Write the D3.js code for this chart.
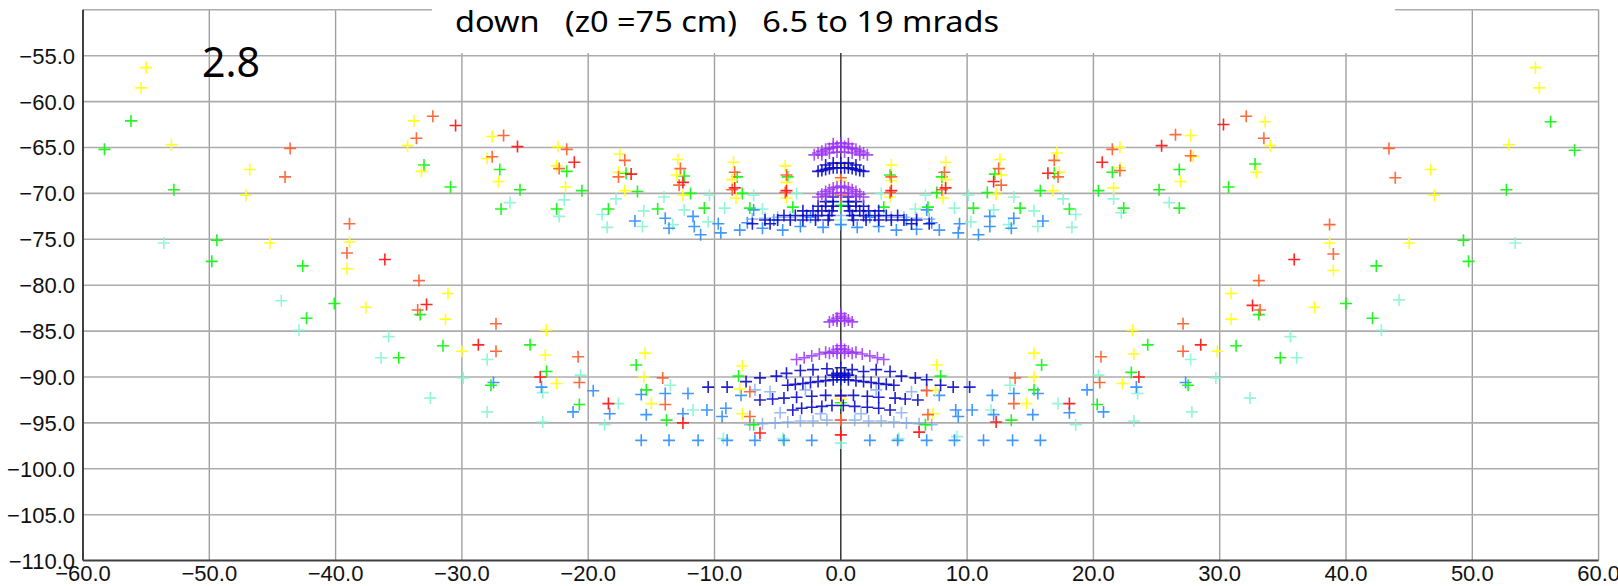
<!DOCTYPE html>
<html>
<head>
  <meta charset="utf-8">
  <title>down (z0 =75 cm) 6.5 to 19 mrads</title>
  <style>
    body { margin: 0; background: #fff; }
    svg { display: block; }
  </style>
</head>
<body>
  <script src="https://cdn.jsdelivr.net/npm/d3@7"></script>
  <script type="text/javascript">
    // tick values
    var xTicks = [-60, -50, -40, -30, -20, -10, 0, 10, 20, 30, 40, 50, 60];
    var yTicks = [-55, -60, -65, -70, -75, -80, -85, -90, -95, -100, -105, -110];
    var titleText = "down   (z0 =75 cm)   6.5 to 19 mrads";
    var cornerLabel = "2.8";

    // points, one list per colour, [x, y]
    var yellowPts = [
      [-55.0,-56.3],[-55.4,-58.5],[-53.0,-64.7],[-46.8,-67.4],[-47.1,-70.2],[-45.2,-75.4],[-38.9,-75.3],[-39.1,-78.2],
      [-33.8,-62.1],[-34.3,-64.8],[-33.2,-67.6],[-27.6,-63.8],[-28.0,-66.2],[-27.1,-68.7],[-22.4,-64.9],[-22.5,-67.0],
      [-21.8,-69.3],[-17.5,-65.7],[-17.6,-67.7],[-17.1,-69.7],[-12.9,-66.3],[-13.0,-68.0],[-12.5,-70.2],[-8.5,-66.6],
      [-8.6,-68.5],[-8.3,-70.5],[-4.4,-67.0],[-4.3,-68.8],[-4.3,-70.5],
      [-31.1,-80.9],[-37.6,-82.4],[-31.3,-83.7],[-30.0,-87.2],[-23.3,-84.9],[-23.4,-87.6],[-22.5,-90.7],[-15.5,-87.4],
      [-15.6,-90.0],[-15.0,-92.9],[-7.8,-88.8],[-8.0,-91.3],[-7.8,-94.0],
      [0,-66.9],[0,-68.6],[0,-89.2],[0,-92.4],
      [55.0,-56.3],[55.3,-58.5],[52.9,-64.7],[46.7,-67.4],[47.0,-70.2],[45.0,-75.4],[38.7,-75.4],[39.0,-78.4],
      [33.6,-62.2],[34.0,-64.8],[32.9,-67.7],[27.7,-63.7],[27.9,-66.0],[26.9,-68.7],[22.1,-65.0],[22.1,-67.2],
      [21.6,-69.4],[17.1,-65.6],[17.3,-67.7],[16.8,-69.7],[12.6,-66.3],[12.7,-68.0],[12.3,-70.1],[8.3,-66.6],
      [8.3,-68.5],[8.1,-70.5],[4.0,-66.9],[4.0,-68.6],[3.9,-70.4],
      [30.9,-80.9],[37.5,-82.4],[30.9,-83.7],[29.8,-87.2],[23.1,-84.9],[23.2,-87.5],[22.3,-90.7],[15.3,-87.4],
      [15.3,-90.0],[14.7,-92.9],[7.6,-88.7],[7.5,-91.4],[7.3,-94.0]
    ];
    var orangePts = [
      [-43.6,-65.1],[-44.0,-68.2],[-38.9,-73.3],[-39.1,-76.5],[-32.3,-61.6],[-33.6,-64.0],[-26.7,-63.7],[-27.6,-66.0],
      [-21.7,-65.2],[-22.3,-67.3],[-17.1,-66.4],[-17.6,-68.2],[-12.7,-67.3],[-12.8,-69.1],[-8.4,-67.7],[-8.6,-69.6],
      [-4.3,-68.0],[-4.4,-69.9],
      [-33.4,-79.5],[-33.5,-82.7],[-27.3,-84.2],[-27.3,-87.2],[-20.8,-87.8],[-20.7,-90.6],[-14.1,-90.1],[-13.9,-93.0],
      [-7.2,-91.6],[-7.2,-94.3],
      [0,-68.3],[0,-70.2],[0,-92.1],[0,-94.7],
      [43.4,-65.1],[43.9,-68.3],[38.7,-73.4],[39.0,-76.6],[32.1,-61.6],[33.5,-64.0],[26.5,-63.6],[27.7,-65.9],
      [21.5,-65.2],[22.1,-67.5],[16.9,-66.4],[17.2,-68.2],[12.5,-67.3],[12.7,-69.1],[8.2,-67.7],[8.0,-69.6],
      [4.0,-68.2],[3.9,-69.9],
      [33.1,-79.5],[33.2,-82.7],[27.1,-84.2],[27.1,-87.2],[20.6,-87.8],[20.5,-90.6],[13.8,-90.1],[13.7,-92.9],
      [6.8,-91.5],[6.9,-94.1]
    ];
    var redPts = [
      [-36.1,-77.2],[-30.5,-62.6],[-25.6,-64.9],[-21.1,-66.6],[-16.6,-67.9],[-12.5,-68.8],[-8.4,-69.4],[-4.3,-69.7],
      [-32.8,-82.1],[-28.7,-86.5],[-23.8,-90.0],[-18.4,-92.9],[-12.5,-95.0],[-6.4,-96.1],
      [0,-96.3],
      [35.9,-77.2],[30.3,-62.5],[25.4,-64.8],[20.7,-66.6],[16.4,-67.8],[12.1,-68.7],[8.3,-69.4],[4.0,-69.7],
      [32.6,-82.2],[28.5,-86.5],[23.6,-90.0],[18.1,-92.9],[12.3,-94.9],[6.2,-96.0]
    ];
    var greenPts = [
      [-56.2,-62.1],[-58.3,-65.2],[-52.8,-69.6],[-49.4,-75.1],[-49.8,-77.4],[-42.6,-77.9],[-33.0,-66.9],[-30.9,-69.3],
      [-27.0,-67.4],[-25.4,-69.6],[-26.9,-71.7],[-21.7,-67.6],[-20.5,-69.7],[-22.5,-71.7],[-17.0,-67.8],[-16.1,-69.8],
      [-18.4,-71.7],[-14.5,-71.7],[-12.4,-68.1],[-11.9,-70.0],[-10.8,-71.6],[-8.2,-68.2],[-7.8,-70.0],[-7.2,-71.6],
      [-4.2,-68.2],[-3.8,-71.5],
      [-40.1,-82.0],[-33.3,-83.2],[-42.3,-83.6],[-35.0,-87.9],[-31.5,-86.6],[-24.6,-86.5],[-27.7,-90.9],[-23.3,-89.4],
      [-20.7,-93.0],[-16.2,-88.7],[-15.4,-91.4],[-13.8,-94.7],[-8.1,-89.9],[-6.9,-95.2],
      [0,-71.3],[0,-90.3],[0,-92.8],
      [56.2,-62.2],[58.1,-65.3],[52.7,-69.6],[49.3,-75.1],[49.7,-77.4],[42.4,-77.9],[32.8,-66.8],[30.7,-69.3],
      [26.8,-67.4],[25.2,-69.6],[26.8,-71.6],[21.5,-67.7],[20.4,-69.7],[22.4,-71.6],[16.9,-67.8],[15.8,-69.7],
      [18.1,-71.7],[14.2,-71.6],[12.2,-67.9],[11.6,-69.9],[10.5,-71.6],[8.0,-68.2],[7.6,-69.9],[6.9,-71.5],
      [3.9,-68.0],[3.4,-71.5],
      [40.0,-82.0],[33.1,-83.2],[42.1,-83.6],[34.8,-87.9],[31.3,-86.6],[24.3,-86.5],[27.5,-90.9],[23.0,-89.5],
      [20.3,-93.0],[15.9,-88.7],[15.3,-91.4],[13.5,-94.7],[7.9,-89.9],[6.7,-95.2]
    ];
    var aquaPts = [
      [-53.6,-75.4],[-26.2,-71.0],[-21.9,-70.7],[-22.3,-72.5],[-17.8,-70.6],[-18.9,-72.3],[-18.5,-73.7],[-15.6,-71.9],
      [-15.7,-73.6],[-14.0,-70.4],[-13.3,-73.4],[-12.4,-71.8],[-10.4,-70.2],[-10.5,-73.1],[-9.2,-71.6],[-6.9,-70.2],
      [-6.2,-71.7],[-3.5,-70.0],
      [-44.3,-81.7],[-42.9,-84.9],[-35.8,-85.6],[-36.4,-87.9],[-28.0,-88.1],[-29.9,-90.1],[-32.5,-92.3],[-28.0,-93.8],
      [-20.6,-89.8],[-23.6,-91.7],[-23.6,-94.9],[-17.6,-92.9],[-18.7,-95.2],[-13.5,-90.9],[-11.7,-93.6],[-9.3,-96.7],
      [-4.6,-96.7],
      [0,-72.9],[0,-97.2],
      [53.4,-75.4],[26.0,-71.0],[21.6,-70.6],[22.2,-72.1],[17.6,-70.6],[18.6,-72.3],[18.3,-73.7],[15.3,-71.9],
      [15.6,-73.6],[13.7,-70.4],[13.3,-73.4],[12.1,-71.8],[10.1,-70.2],[10.3,-73.1],[9.0,-71.6],[6.7,-70.2],
      [5.9,-71.7],[3.2,-70.0],
      [44.2,-81.6],[42.8,-84.9],[35.6,-85.6],[36.1,-87.9],[27.7,-88.1],[29.7,-90.1],[32.4,-92.3],[27.8,-93.8],
      [20.4,-89.8],[23.5,-91.8],[23.2,-94.8],[17.2,-92.9],[18.6,-95.2],[13.4,-90.9],[11.9,-93.6],[9.2,-96.5],
      [4.6,-96.7]
    ];
    var dodgerPts = [
      [-16.3,-73.0],[-13.9,-72.7],[-13.6,-73.8],[-11.7,-72.5],[-11.6,-73.6],[-11.1,-74.5],[-9.7,-73.3],[-9.5,-74.3],
      [-8.0,-74.0],[-6.9,-71.8],[-7.4,-73.2],[-6.2,-73.8],[-5.3,-72.9],[-4.6,-74.0],[-3.2,-73.6],[-2.4,-72.6],
      [-1.4,-73.7],[0,-73.4],
      [16.0,-73.0],[13.7,-72.7],[13.5,-73.8],[11.8,-72.5],[11.8,-73.6],[10.9,-74.5],[9.4,-73.3],[9.3,-74.3],
      [7.8,-74.0],[6.8,-71.8],[7.2,-73.2],[6.0,-73.9],[5.2,-72.9],[4.4,-74.0],[3.0,-73.6],[2.3,-72.6],
      [1.3,-73.7],
      [-27.5,-90.6],[-23.7,-91.1],[-19.6,-91.5],[-21.2,-93.8],[-18.3,-94.0],[-15.8,-91.9],[-13.9,-91.8],[-15.4,-94.1],
      [-12.5,-94.0],[-12.1,-91.8],[-10.6,-93.6],[-9.4,-94.3],[-9.1,-93.4],[-7.9,-92.0],
      [27.3,-90.6],[23.4,-91.1],[19.5,-91.4],[20.8,-93.8],[18.1,-93.9],[15.6,-91.8],[13.7,-91.8],[15.2,-94.1],
      [12.1,-94.1],[12.0,-92.0],[10.4,-93.6],[9.3,-94.3],[9.1,-93.6],[7.8,-92.0],
      [-15.8,-96.9],[-13.6,-96.9],[-11.3,-96.9],[-9.0,-96.9],[-6.8,-96.9],[-4.5,-96.9],[-2.3,-96.9],
      [2.3,-96.9],[4.5,-96.9],[6.8,-96.9],[9.0,-96.9],[11.3,-96.9],[13.6,-96.9],[15.8,-96.9]
    ];
    var paleBluePts = [
      [-7.0,-72.8],[-6.0,-72.7],[-5.0,-72.6],[-4.0,-72.6],[-3.0,-72.5],[-2.0,-72.5],[-1.0,-72.4],[0,-72.4],
      [1.0,-72.4],[2.0,-72.5],[3.0,-72.5],[4.0,-72.6],[5.0,-72.6],[6.0,-72.7],[7.0,-72.8],
      [-7.2,-95.2],[-6.2,-95.1],[-5.2,-95.0],[-4.2,-94.9],[-3.2,-94.8],[-2.2,-94.8],[-1.1,-94.7],[0,-94.7],
      [1.1,-94.7],[2.2,-94.8],[3.2,-94.8],[4.2,-94.9],[5.2,-95.0],[6.2,-95.1],[7.2,-95.2],
      [-6.8,-91.4],[-5.6,-91.6],[-4.8,-93.9],[-2.8,-91.4],[-1.6,-94.0],[1.6,-94.0],[2.8,-91.4],[4.8,-93.9],
      [5.6,-91.6],[6.8,-91.4]
    ];
    var darkBluePts = [
      // upper dome
      [-1.8,-67.6],[-1.5,-67.5],[-1.2,-67.4],[-0.9,-67.3],[-0.6,-67.2],[-0.3,-67.2],[0,-67.2],[0.3,-67.2],
      [0.6,-67.2],[0.9,-67.3],[1.2,-67.4],[1.5,-67.5],[1.8,-67.6],
      [-1.2,-66.9],[-0.6,-66.7],[0,-66.7],[0.6,-66.7],[1.2,-66.9],
      // upper triangle
      [-0.6,-70.4],[0.6,-70.4],[-1.2,-70.9],[-0.6,-70.9],[0.6,-70.9],[1.2,-70.9],
      [-1.8,-71.4],[-1.2,-71.4],[-0.6,-71.4],[0.6,-71.4],[1.2,-71.4],[1.8,-71.4],
      [-3.0,-71.9],[-2.2,-71.9],[-1.5,-71.9],[-0.7,-71.9],[0.7,-71.9],[1.5,-71.9],[2.2,-71.9],[3.0,-71.9],
      [-4.5,-72.4],[-3.6,-72.4],[-2.7,-72.4],[-1.8,-72.4],[-0.9,-72.4],[0.9,-72.4],[1.8,-72.4],[2.7,-72.4],
      [3.6,-72.4],[4.5,-72.4],
      [-6.0,-72.9],[-5.0,-72.9],[-4.0,-72.9],[-3.0,-72.9],[-2.0,-72.9],[-1.0,-72.9],[1.0,-72.9],[2.0,-72.9],
      [3.0,-72.9],[4.0,-72.9],[5.0,-72.9],[6.0,-72.9],
      [-7.0,-73.3],[-5.6,-73.3],[5.6,-73.3],[7.0,-73.3],
      // lower rows
      [-10.5,-91.1],[-9.0,-91.1],[-7.5,-90.5],[-6.4,-90.1],[-5.1,-89.9],[-4.3,-89.6],[-3.2,-89.3],[-2.2,-89.2],
      [-1.1,-89.1],[0,-89.0],[0.9,-89.2],[1.8,-89.4],[2.8,-89.2],[3.9,-89.4],[4.8,-89.9],[5.9,-90.1],
      [6.8,-90.3],[7.9,-90.9],[8.9,-91.1],[10.2,-91.1],
      [-0.6,-89.8],[-0.3,-89.6],[0,-89.8],[0.3,-89.6],[0.6,-89.8],[-0.3,-90.0],[0.3,-90.0],
      [-4.2,-90.9],[-3.6,-90.8],[-3.0,-90.7],[-2.4,-90.6],[-1.8,-90.5],[-1.2,-90.4],[-0.6,-90.3],[0,-90.3],
      [0.6,-90.3],[1.2,-90.4],[1.8,-90.5],[2.4,-90.6],[3.0,-90.7],[3.6,-90.8],[4.2,-90.9],
      [-6.4,-92.5],[-5.4,-92.4],[-4.5,-92.3],[-3.5,-92.2],[-2.3,-92.1],[-1.2,-92.0],[0,-92.0],[1.0,-92.0],
      [2.1,-92.1],[3.0,-92.2],[4.3,-92.3],[5.1,-92.4],[6.1,-92.5],
      [-3.8,-93.6],[-3.1,-93.4],[-2.3,-93.3],[-1.5,-93.2],[-0.7,-93.1],[0.2,-93.1],[1.1,-93.2],[2.1,-93.3],
      [3.0,-93.4],[3.9,-93.6]
    ];
    var purplePts = [
      [-2.1,-65.8],[-1.8,-65.6],[-1.5,-65.4],[-1.2,-65.2],[-0.9,-65.1],[-0.6,-65.0],[-0.3,-64.9],[0,-64.9],
      [0.3,-64.9],[0.6,-65.0],[0.9,-65.1],[1.2,-65.2],[1.5,-65.4],[1.8,-65.6],[2.1,-65.8],
      [-1.5,-65.8],[-0.9,-65.6],[-0.3,-65.5],[0.3,-65.5],[0.9,-65.6],[1.5,-65.8],[-0.6,-64.6],[0,-64.5],[0.6,-64.6],
      [-1.8,-70.4],[-1.5,-70.1],[-1.2,-69.8],[-0.9,-69.6],[-0.6,-69.4],[-0.3,-69.3],[0,-69.2],[0.3,-69.3],
      [0.6,-69.4],[0.9,-69.6],[1.2,-69.8],[1.5,-70.1],[1.8,-70.4],
      [-1.2,-70.3],[-0.6,-70.0],[0,-69.9],[0.6,-70.0],[1.2,-70.3],
      [-0.9,-84.0],[-0.6,-83.8],[-0.3,-83.6],[0,-83.4],[0.3,-83.6],[0.6,-83.8],[0.9,-84.0],[0,-83.1],[-0.3,-83.9],[0.3,-83.9],
      [-0.9,-87.4],[-0.6,-87.2],[-0.3,-87.0],[0,-86.9],[0.3,-87.0],[0.6,-87.2],[0.9,-87.4],[0,-86.6],[-0.3,-87.4],[0.3,-87.4],
      [-3.5,-88.1],[-2.9,-87.9],[-2.3,-87.7],[-1.7,-87.5],[-1.2,-87.3],[1.2,-87.3],[1.7,-87.5],[2.3,-87.7],
      [2.9,-87.9],[3.4,-88.1]
    ];

    var series = [
      { pts: aquaPts, color: "#7ff5d0", op: 0.85 },
      { pts: dodgerPts, color: "#2b8cff", op: 0.9 },
      { pts: paleBluePts, color: "#6f9ff2", op: 0.7 },
      { pts: greenPts, color: "#14f514", op: 0.95 },
      { pts: yellowPts, color: "#ffff14", op: 0.95 },
      { pts: orangePts, color: "#ff5a28", op: 0.9 },
      { pts: redPts, color: "#ff1a1a", op: 0.95 },
      { pts: darkBluePts, color: "#0a0ac8", op: 0.9 },
      { pts: purplePts, color: "#9a32f5", op: 0.85 }
    ];

    var width = 1618, height = 586;
    var svg = d3.select("body").append("svg")
      .attr("width", width)
      .attr("height", height);

    var x = d3.scaleLinear().domain([-60, 60]).range([83, 1598.6]);
    var y = d3.scaleLinear().domain([-110, -50]).range([560.6, 9.8]);
    var fmt = d3.format(".1f");

    // grid
    var grid = svg.append("g");
    grid.selectAll("line.v").data(xTicks.filter(function(d) { return d > -60 && d !== 0; }))
      .enter().append("line")
      .attr("x1", function(d) { return x(d); }).attr("x2", function(d) { return x(d); })
      .attr("y1", y(-50)).attr("y2", y(-110))
      .attr("stroke", "#a0a0a0").attr("stroke-width", 1.4);
    grid.selectAll("line.h").data(yTicks.filter(function(d) { return d > -110; }).concat([-50]))
      .enter().append("line")
      .attr("x1", x(-60)).attr("x2", x(60))
      .attr("y1", function(d) { return y(d); }).attr("y2", function(d) { return y(d); })
      .attr("stroke", "#acacac").attr("stroke-width", 1.6);

    // white box behind the title
    svg.append("rect")
      .attr("x", 432).attr("y", 0).attr("width", 963).attr("height", 53)
      .attr("fill", "#fff");

    // zero line
    svg.append("line")
      .attr("x1", x(0)).attr("x2", x(0)).attr("y1", 53).attr("y2", y(-110))
      .attr("stroke", "#333").attr("stroke-width", 1.5);

    // points
    var cross = "M-6,0H6M0,-6V6";
    series.forEach(function(s) {
      svg.append("g").selectAll("path").data(s.pts).enter().append("path")
        .attr("d", cross)
        .attr("transform", function(d) { return "translate(" + x(d[0]) + "," + y(d[1]) + ")"; })
        .attr("stroke", s.color)
        .attr("stroke-opacity", s.op)
        .attr("stroke-width", 1.6)
        .attr("fill", "none");
    });

    // axes
    svg.append("line")
      .attr("x1", x(-60)).attr("x2", x(-60)).attr("y1", y(-50)).attr("y2", y(-110))
      .attr("stroke", "#404040").attr("stroke-width", 2);
    svg.append("line")
      .attr("x1", x(-60)).attr("x2", x(60)).attr("y1", y(-110)).attr("y2", y(-110))
      .attr("stroke", "#404040").attr("stroke-width", 2);

    svg.append("g").selectAll("text").data(yTicks).enter().append("text")
      .attr("x", 75)
      .attr("y", function(d) { return y(d); })
      .attr("dy", "0.36em")
      .attr("text-anchor", "end")
      .attr("font-family", "'Liberation Sans', Arial, sans-serif")
      .attr("font-size", 22)
      .attr("fill", "#111")
      .text(function(d) { return fmt(d); });

    svg.append("g").selectAll("text").data(xTicks).enter().append("text")
      .attr("x", function(d) { return x(d); })
      .attr("y", 581)
      .attr("text-anchor", "middle")
      .attr("font-family", "'Liberation Sans', Arial, sans-serif")
      .attr("font-size", 22)
      .attr("fill", "#111")
      .text(function(d) { return fmt(d); });

    svg.append("text")
      .attr("x", 455).attr("y", 32)
      .attr("font-family", "'Noto Sans', 'Open Sans', sans-serif")
      .attr("font-size", 29)
      .attr("textLength", 544)
      .attr("lengthAdjust", "spacingAndGlyphs")
      .style("white-space", "pre")
      .attr("fill", "#000")
      .text(titleText);

    svg.append("text")
      .attr("x", 202).attr("y", 77)
      .attr("font-family", "'Noto Sans', 'Open Sans', sans-serif")
      .attr("font-size", 42)
      .attr("textLength", 58)
      .attr("lengthAdjust", "spacingAndGlyphs")
      .attr("fill", "#000")
      .text(cornerLabel);
  </script>
</body>
</html>
